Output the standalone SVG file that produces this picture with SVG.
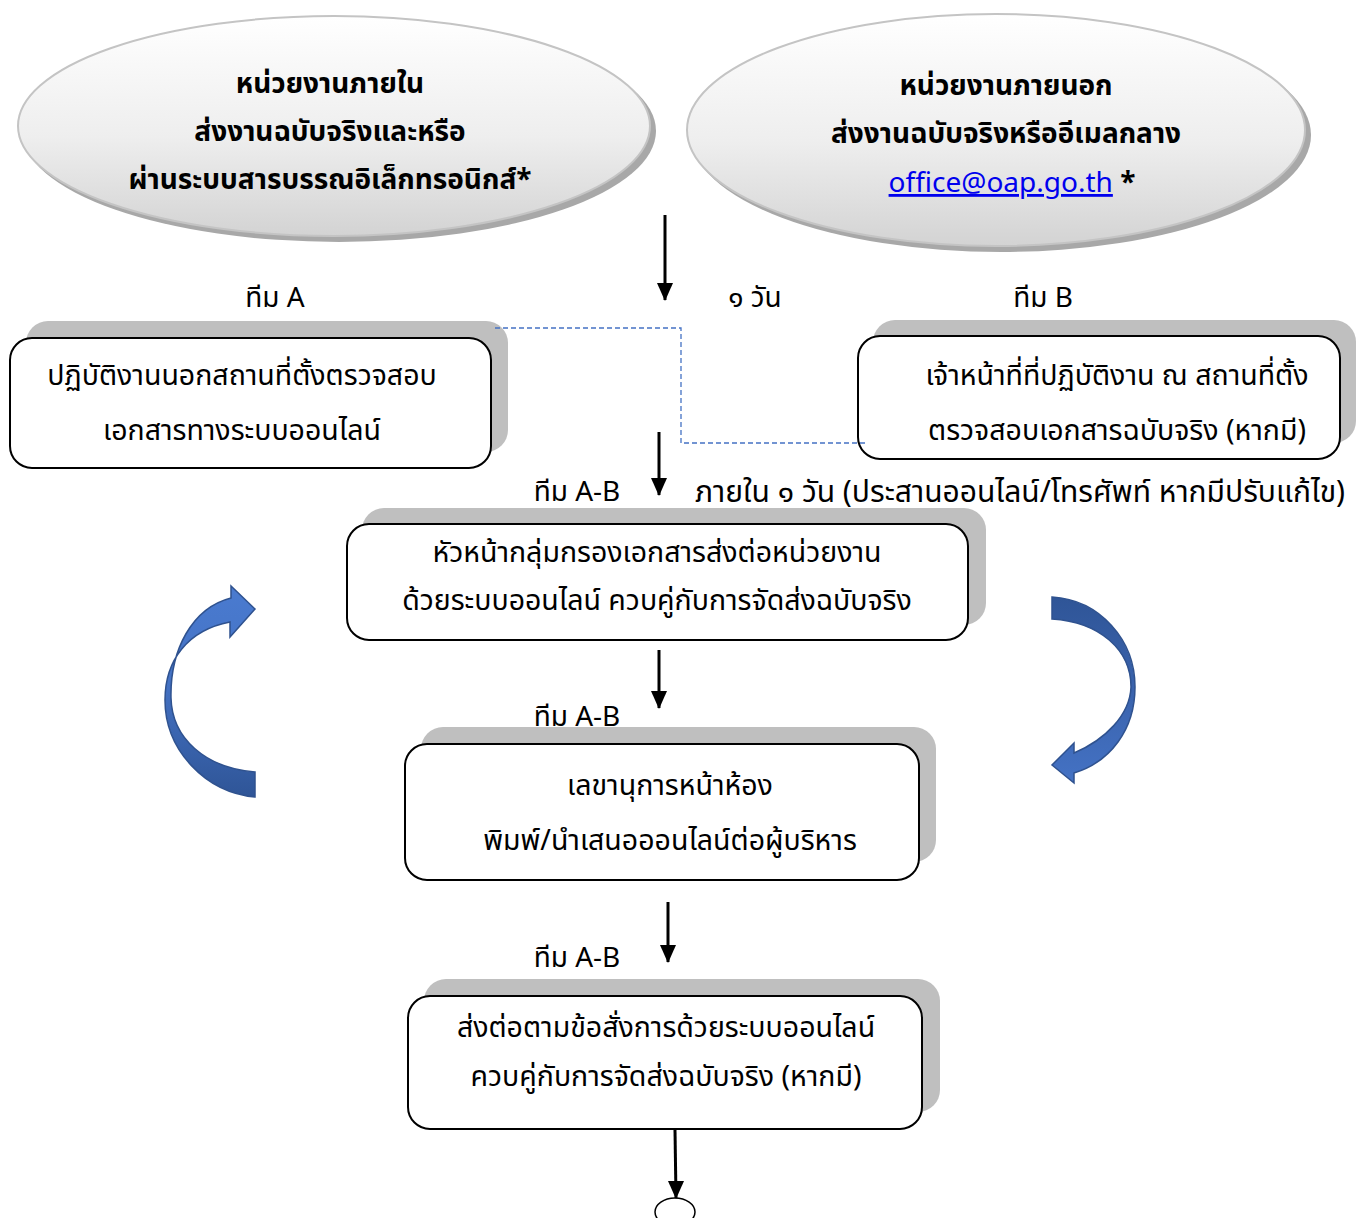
<svg xmlns="http://www.w3.org/2000/svg" width="1365" height="1218" viewBox="0 0 1365 1218">
<defs>
<linearGradient id="ellG" x1="0" y1="0" x2="0" y2="1">
<stop offset="0" stop-color="#ffffff"/>
<stop offset="0.55" stop-color="#eeeeee"/>
<stop offset="1" stop-color="#d3d3d3"/>
</linearGradient>
<linearGradient id="arrL" x1="0" y1="0" x2="0" y2="1">
<stop offset="0" stop-color="#4a7bd0"/>
<stop offset="0.45" stop-color="#4472c4"/>
<stop offset="1" stop-color="#2f5597"/>
</linearGradient>
<linearGradient id="arrR" x1="0" y1="0" x2="0" y2="1">
<stop offset="0" stop-color="#2f5597"/>
<stop offset="0.5" stop-color="#3a63ad"/>
<stop offset="1" stop-color="#4472c4"/>
</linearGradient>
<marker id="ah2" markerWidth="16" markerHeight="18" refX="8" refY="17" orient="0" markerUnits="userSpaceOnUse" viewBox="0 0 16 18">
<path d="M0,0 L16,0 L8,18 Z" fill="#000"/>
</marker>
</defs>
<style>
text{font-family:"Noto Sans Thai","Noto Sans Thai UI","Leelawadee UI","Tahoma","Noto Sans","DejaVu Sans",sans-serif;fill:#000}
.t{font-size:28.5px;text-anchor:middle}
.b{font-size:28px;font-weight:bold;text-anchor:middle}
.l{font-size:28px}
.ll{font-size:30px}
.sh{fill:#bfbfbf}
.bx{fill:#fff;stroke:#000;stroke-width:2}
.ell{fill:url(#ellG);stroke:#c4c4c4;stroke-width:2}
.esh{fill:#a8a8a8}
.con{stroke:#000;stroke-width:3;fill:none}
.dash{stroke:#4472c4;stroke-width:1.3;stroke-dasharray:5,3;fill:none}
</style>

<g id="node-internal">
<ellipse class="esh" cx="339" cy="131" rx="317" ry="111"/>
<ellipse class="ell" cx="334" cy="126" rx="316" ry="110"/>
<text class="b" x="330" y="93">หน่วยงานภายใน</text>
<text class="b" x="330" y="141">ส่งงานฉบับจริงและหรือ</text>
<text class="b" x="330" y="189">ผ่านระบบสารบรรณอิเล็กทรอนิกส์*</text>
</g>

<g id="node-external">
<ellipse class="esh" cx="1001" cy="135" rx="310" ry="117"/>
<ellipse class="ell" cx="996" cy="130" rx="309" ry="116"/>
<text class="b" x="1006" y="95">หน่วยงานภายนอก</text>
<text class="b" x="1006" y="143">ส่งงานฉบับจริงหรืออีเมลกลาง</text>
<text class="b" x="1012" y="192"><tspan fill="#0000ee" font-weight="normal" text-decoration="underline">office@oap.go.th</tspan> *</text>
</g>

<g id="labels">
<text class="l" x="275" y="307" text-anchor="middle">ทีม A</text>
<text class="l" x="755" y="307" text-anchor="middle">๑ วัน</text>
<text class="l" x="1043" y="307" text-anchor="middle">ทีม B</text>
<text class="l" x="577" y="501" text-anchor="middle">ทีม A-B</text>
<text class="ll" x="695" y="502">ภายใน ๑ วัน (ประสานออนไลน์/โทรศัพท์ หากมีปรับแก้ไข)</text>
<text class="l" x="577" y="726" text-anchor="middle">ทีม A-B</text>
<text class="l" x="577" y="967" text-anchor="middle">ทีม A-B</text>
</g>

<g id="node-teamA">
<rect class="sh" x="26" y="321" width="482" height="131" rx="22"/>
<rect class="bx" x="10" y="338" width="481" height="130" rx="22"/>
<text class="t" x="242" y="385">ปฏิบัติงานนอกสถานที่ตั้งตรวจสอบ</text>
<text class="t" x="242" y="440">เอกสารทางระบบออนไลน์</text>
</g>

<g id="node-teamB">
<rect class="sh" x="873" y="320" width="483" height="123" rx="22"/>
<rect class="bx" x="858" y="336" width="482" height="123" rx="22"/>
<text class="t" x="1117" y="385">เจ้าหน้าที่ที่ปฏิบัติงาน ณ สถานที่ตั้ง</text>
<text class="t" x="1117" y="440">ตรวจสอบเอกสารฉบับจริง (หากมี)</text>
</g>

<g id="node-head">
<rect class="sh" x="362" y="508" width="624" height="117" rx="22"/>
<rect class="bx" x="347" y="524" width="621" height="116" rx="22"/>
<text class="t" x="657" y="562">หัวหน้ากลุ่มกรองเอกสารส่งต่อหน่วยงาน</text>
<text class="t" x="657" y="610">ด้วยระบบออนไลน์ ควบคู่กับการจัดส่งฉบับจริง</text>
</g>

<g id="node-secretary">
<rect class="sh" x="421" y="727" width="515" height="135" rx="22"/>
<rect class="bx" x="405" y="744" width="514" height="136" rx="22"/>
<text class="t" x="670" y="795">เลขานุการหน้าห้อง</text>
<text class="t" x="670" y="850">พิมพ์/นำเสนอออนไลน์ต่อผู้บริหาร</text>
</g>

<g id="node-forward">
<rect class="sh" x="424" y="979" width="516" height="133" rx="22"/>
<rect class="bx" x="408" y="996" width="514" height="133" rx="22"/>
<text class="t" x="666" y="1037">ส่งต่อตามข้อสั่งการด้วยระบบออนไลน์</text>
<text class="t" x="666" y="1086">ควบคู่กับการจัดส่งฉบับจริง (หากมี)</text>
</g>

<g id="node-end">
<ellipse cx="675" cy="1212" rx="20" ry="14" fill="#fff" stroke="#000" stroke-width="1.5"/>
</g>

<g id="connectors">
<line class="con" x1="665" y1="215" x2="665" y2="300" marker-end="url(#ah2)"/>
<line class="con" x1="659" y1="432" x2="659" y2="495" marker-end="url(#ah2)"/>
<line class="con" x1="659" y1="650" x2="659" y2="708" marker-end="url(#ah2)"/>
<line class="con" x1="668" y1="902" x2="668" y2="962" marker-end="url(#ah2)"/>
<line class="con" x1="675" y1="1130" x2="676" y2="1198" marker-end="url(#ah2)"/>
<polyline class="dash" points="495,328 681,328 681,443 868,443"/>
<path d="M255,797 C205,792 165,750 165,700 C165,660 188,630 230,622 L230,637 L255,609 L231,586 L231,598 C192,608 170,650 171,698 C172,738 205,768 255,772 Z" fill="url(#arrL)" stroke="#2f528f" stroke-width="1.5"/>
<path d="M1052,597 C1100,600 1135,640 1135,687 C1135,730 1110,762 1074,773 L1074,783 L1052,765 L1074,743 L1074,753 C1105,740 1130,715 1131,687 C1131,650 1100,622 1052,619 Z" fill="url(#arrR)" stroke="#2f528f" stroke-width="1.5"/>
</g>
</svg>
